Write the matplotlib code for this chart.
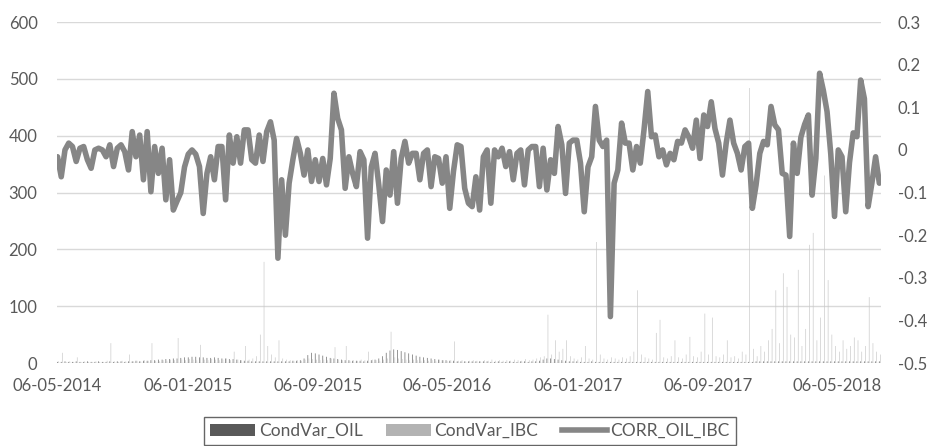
import matplotlib
matplotlib.use("Agg")
import matplotlib.pyplot as plt
import matplotlib.dates as mdates
from matplotlib.patches import Patch
from matplotlib.lines import Line2D
import numpy as np
import pandas as pd

plt.rcParams["font.family"] = ["Lato", "DejaVu Sans"]

# weekly observations starting 06-05-2014
start = "2014-05-06"

corr_oil_ibc = [
    -0.016, -0.063, 0.0, 0.016, 0.008, -0.027, 0.004, 0.008, -0.023, -0.043,
    0.0, 0.004, 0.0, -0.016, 0.012, -0.039, 0.004, 0.012, -0.004, -0.047,
    0.043, -0.016, 0.035, -0.07, 0.043, -0.098, 0.008, -0.055, 0.004, -0.117,
    -0.023, -0.141, -0.12, -0.10, -0.04, -0.01, 0.0, -0.01, -0.039, -0.149,
    -0.055, -0.016, -0.07, 0.008, 0.008, -0.117, 0.035, -0.031, 0.031, -0.031,
    0.047, 0.047, -0.023, -0.031, 0.035, -0.027, 0.043, 0.066, 0.023, -0.254,
    -0.07, -0.2, -0.078, -0.023, 0.027, -0.008, -0.059, 0.0, -0.074, -0.023,
    -0.074, -0.02, -0.082, -0.02, 0.133, 0.074, 0.047, -0.09, -0.016, -0.055,
    -0.086, -0.004, -0.023, -0.207, -0.04, -0.008, -0.082, -0.168, -0.047, -0.106,
    -0.004, -0.125, -0.02, 0.02, -0.031, -0.008, -0.008, -0.07, -0.008, 0.0,
    -0.086, -0.016, -0.02, -0.078, -0.016, -0.137, -0.05, 0.012, 0.008, -0.09,
    -0.125, -0.133, -0.063, -0.141, -0.016, 0.0, -0.125, 0.0, -0.016, 0.004,
    -0.039, -0.004, -0.07, -0.008, 0.0, -0.082, 0.0, 0.008, 0.008, -0.086,
    0.004, -0.094, -0.023, -0.055, 0.055, 0.012, -0.102, 0.016, 0.023, 0.023,
    -0.031, -0.145, -0.04, -0.016, 0.102, 0.023, 0.008, 0.023, -0.391, -0.078,
    -0.047, 0.063, 0.016, 0.016, -0.047, 0.008, -0.031, 0.047, 0.137, 0.031,
    0.035, -0.016, 0.0, -0.035, -0.008, -0.023, 0.02, 0.016, 0.047, 0.03,
    0.004, 0.07, -0.02, 0.082, 0.055, 0.113, 0.05, 0.016, -0.059, 0.016,
    0.07, 0.016, -0.008, -0.047, 0.008, 0.016, -0.137, -0.082, -0.008, 0.02,
    0.012, 0.102, 0.059, 0.047, -0.055, -0.059, -0.203, 0.016, -0.055, 0.03,
    0.06, 0.082, -0.106, -0.02, 0.18, 0.14, 0.09, -0.01, -0.156, 0.0,
    -0.016, -0.145, -0.03, 0.04, 0.031, 0.164, 0.12, -0.133, -0.078, -0.016, -0.078,
]

condvar_oil = [
    2, 2, 3, 2, 2, 3, 2, 2, 3, 2,
    2, 3, 2, 2, 3, 2, 3, 3, 2, 3,
    3, 4, 3, 4, 4, 5, 5, 6, 6, 7,
    7, 8, 8, 9, 10, 10, 11, 11, 10, 10,
    9, 9, 10, 9, 8, 8, 7, 7, 6, 5,
    4, 4, 3, 3, 3, 3, 3, 3, 3, 3,
    3, 3, 3, 4, 4, 5, 8, 14, 18, 17,
    15, 13, 11, 9, 8, 7, 6, 5, 5, 4,
    4, 4, 3, 4, 5, 6, 8, 12, 18, 22,
    24, 23, 21, 19, 17, 15, 13, 11, 10, 9,
    8, 7, 6, 5, 5, 4, 4, 3, 3, 3,
    3, 3, 3, 3, 3, 3, 2, 2, 3, 2,
    2, 3, 2, 2, 3, 3, 2, 3, 3, 4,
    6, 8, 8, 7, 6, 5, 4, 3, 3, 3,
    2, 2, 2, 3, 2, 2, 2, 2, 2, 2,
    2, 2, 2, 2, 2, 2, 2, 2, 2, 2,
    2, 2, 2, 2, 2, 2, 2, 2, 2, 2,
    2, 2, 2, 2, 2, 2, 2, 2, 2, 2,
    2, 2, 2, 2, 2, 2, 2, 3, 3, 3,
    3, 3, 3, 3, 3, 3, 3, 3, 3, 3,
    3, 3, 3, 3, 3, 3, 3, 3, 3, 3,
    3, 3, 3, 3, 3, 3, 3, 3, 3, 3, 3,
]

condvar_ibc = [
    3, 18, 2, 3, 2, 10, 2, 3, 2, 2,
    3, 2, 2, 4, 35, 3, 2, 4, 3, 15,
    3, 4, 3, 5, 4, 35, 4, 3, 5, 4,
    6, 5, 44, 6, 5, 7, 6, 5, 32, 6,
    5, 7, 6, 5, 6, 8, 5, 20, 6, 5,
    30, 6, 8, 12, 50, 178, 30, 15, 10, 40,
    8, 6, 5, 4, 5, 4, 6, 8, 7, 6,
    5, 6, 5, 8, 28, 6, 5, 30, 4, 5,
    4, 6, 5, 20, 6, 5, 4, 6, 8, 55,
    10, 8, 7, 6, 5, 6, 5, 4, 5, 4,
    5, 4, 6, 5, 4, 5, 38, 4, 5, 3,
    4, 5, 4, 3, 5, 4, 6, 4, 5, 4,
    5, 4, 6, 5, 4, 7, 5, 6, 8, 10,
    12, 85, 15, 40, 20, 25, 40, 12, 8, 6,
    10, 30, 8, 6, 213, 15, 8, 6, 10, 8,
    6, 10, 8, 12, 20, 128, 15, 10, 8, 6,
    53, 76, 10, 8, 12, 40, 10, 8, 15, 46,
    12, 10, 20, 87, 15, 80, 12, 10, 15, 40,
    10, 12, 8, 20, 15, 484, 25, 12, 30, 20,
    40, 60, 128, 35, 158, 134, 50, 45, 164, 30,
    60, 208, 229, 40, 80, 330, 146, 50, 30, 20,
    40, 25, 30, 45, 40, 20, 30, 116, 35, 20, 15,
]

tick_dates = ["2014-05-06", "2015-01-06", "2015-09-06", "2016-05-06",
              "2017-01-06", "2017-09-06", "2018-05-06"]
left_ticks = [0, 100, 200, 300, 400, 500, 600]
right_ticks = [-0.5, -0.4, -0.3, -0.2, -0.1, 0.0, 0.1, 0.2, 0.3]
right_labels = ["-0.5", "-0.4", "-0.3", "-0.2", "-0.1", "0", "0.1", "0.2", "0.3"]

dates = pd.date_range(start, periods=len(corr_oil_ibc), freq="7D")
txt = "#595959"

fig = plt.figure(figsize=(9.28, 4.46), dpi=100)
ax = fig.add_axes([0.0614, 0.186, 0.8879, 0.7645])

# thin bars, not snapped to pixels, so they come out faint like the original
ax.bar(dates, condvar_oil, width=1.5, color="#7f7f7f", linewidth=0,
       zorder=2, snap=False)
ax.bar(dates + pd.Timedelta(days=2), condvar_ibc, width=1.2,
       color="#c8c8c8", linewidth=0, zorder=2, snap=False)

ax.set_ylim(0, 600)
ax.set_yticks(left_ticks)
ax.grid(axis="y", color="#d9d9d9", linewidth=1.0, zorder=0)
ax.set_axisbelow(True)
ax.set_xlim(pd.Timestamp(start) - pd.Timedelta(days=1),
            pd.Timestamp(start) + pd.Timedelta(days=1543))
ax.set_xticks(pd.to_datetime(tick_dates))
ax.xaxis.set_major_formatter(mdates.DateFormatter("%d-%m-%Y"))
for s in ax.spines.values():
    s.set_visible(False)
ax.tick_params(axis="both", length=0, labelsize=12, colors=txt)
ax.tick_params(axis="y", pad=14)
ax.tick_params(axis="x", pad=11)

ax2 = ax.twinx()
ax2.plot(dates, corr_oil_ibc, color="#868686", linewidth=4.0,
         solid_joinstyle="round", solid_capstyle="round")
ax2.set_ylim(-0.5, 0.3)
ax2.set_yticks(right_ticks)
ax2.set_yticklabels(right_labels)
for s in ax2.spines.values():
    s.set_visible(False)
ax2.tick_params(axis="y", length=0, labelsize=12, colors=txt, pad=12)

handles = [
    Patch(facecolor="#595959", edgecolor="none"),
    Patch(facecolor="#b3b3b3", edgecolor="none"),
    Line2D([0], [0], color="#868686", linewidth=4.0),
]
labels = ["CondVar_OIL", "CondVar_IBC", "CORR_OIL_IBC"]
leg = fig.legend(handles, labels, loc="upper center", ncol=3,
                 bbox_to_anchor=(0.5065, 1 - 417 / 446), frameon=True,
                 fancybox=False, edgecolor="#404040", fontsize=12.5,
                 handlelength=2.6, handletextpad=0.2, columnspacing=1.35,
                 borderpad=0.35, borderaxespad=0)
leg.get_frame().set_linewidth(1.0)
for t in leg.get_texts():
    t.set_color(txt)

fig.savefig("out.png", dpi=100)
